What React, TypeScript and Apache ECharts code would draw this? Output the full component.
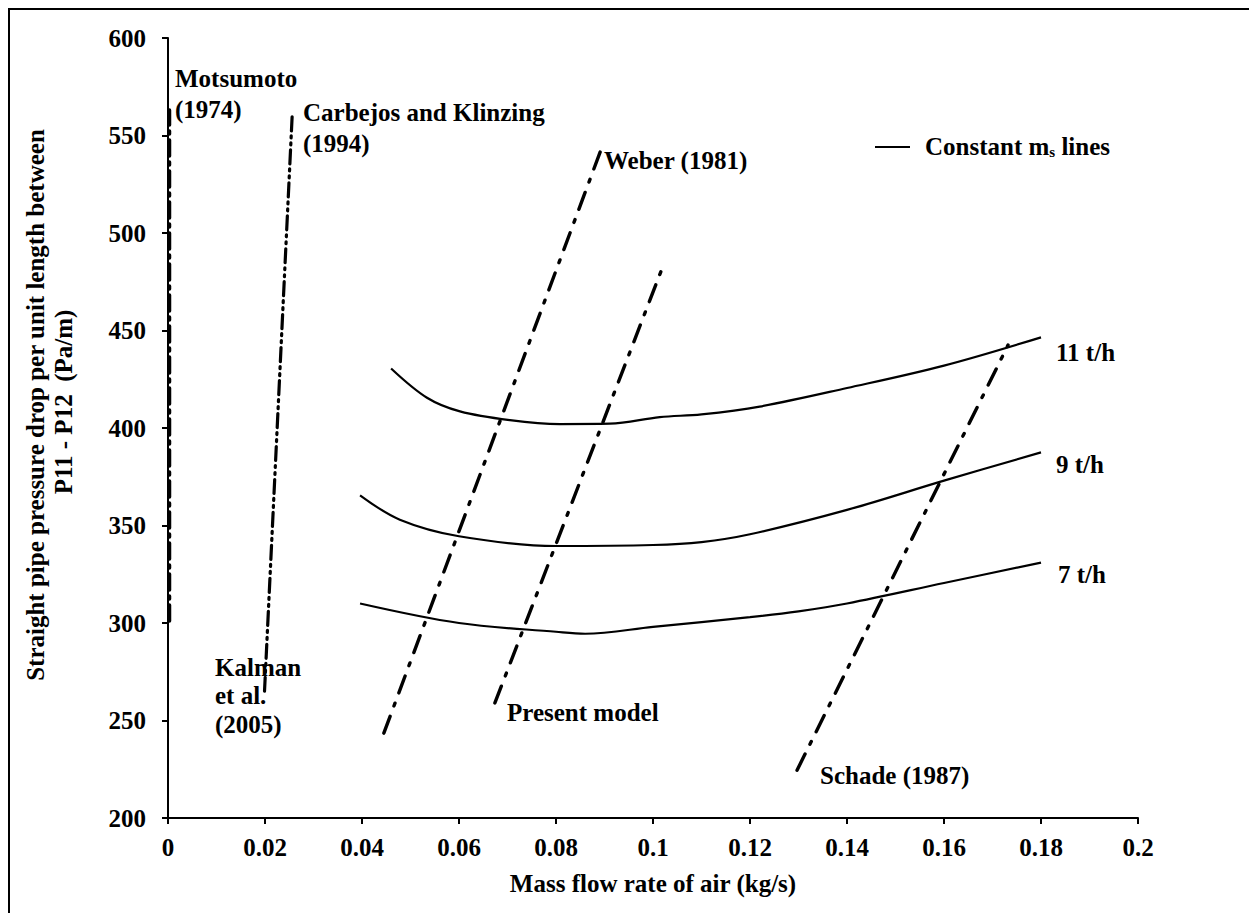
import React, { useEffect, useRef } from "react";
import * as echarts from "echarts";

// Axis ranges
const xMin = 0, xMax = 0.2, xStep = 0.02;
const yMin = 200, yMax = 600, yStep = 50;

// Constant solids-flow curves: [air mass flow (kg/s), pressure drop (Pa/m)]
const curve11 = [
  [0.046, 430.5], [0.0534, 415.5], [0.0602, 408.5], [0.0705, 404], [0.0808, 402],
  [0.0911, 402.2], [0.1014, 405.6], [0.11, 407], [0.122, 411], [0.14, 420.5],
  [0.16, 432], [0.18, 446.5],
];
const curve9 = [
  [0.0396, 365.5], [0.0478, 353], [0.06, 344.5], [0.08, 339.5], [0.1, 340],
  [0.11, 341.5], [0.12, 345.5], [0.14, 358], [0.16, 373], [0.18, 387.5],
];
const curve7 = [
  [0.0396, 310], [0.06, 300], [0.08, 295.5], [0.086, 294.5], [0.1, 298],
  [0.12, 303], [0.13, 306], [0.14, 310], [0.16, 320.5], [0.18, 331],
];

// Correlation lines
const motsumoto = [[0.0003, 301], [0.0003, 563]];
const carbejos = [[0.0199, 265], [0.0256, 560]];
const weber = [[0.0445, 243.5], [0.0891, 541.5]];
const presentModel = [[0.0674, 259], [0.1019, 482]];
const schade = [[0.1297, 224.5], [0.1732, 442.5]];

const FONT = "'Liberation Serif', 'Times New Roman', serif";
const FS = 25;

const solid = (name: string, data: number[][]) => ({
  name,
  type: "line",
  data,
  smooth: 0.35,
  showSymbol: false,
  lineStyle: { color: "#000", width: 2.2, type: "solid" },
});

const dashed = (name: string, data: number[][], pattern: number[], width = 3.4) => ({
  name,
  type: "line",
  data,
  showSymbol: false,
  lineStyle: { color: "#000", width, type: pattern, cap: "round" },
});

const txt = (x: number, y: number, text: string, extra: any = {}) => ({
  type: "text",
  x: x - 8,
  y: y - 8,
  style: {
    text,
    fill: "#000",
    font: `bold ${FS}px ${FONT}`,
    textVerticalAlign: "middle",
    ...extra,
  },
});

export default function App() {
  const ref = useRef<HTMLDivElement>(null);

  useEffect(() => {
    document.body.style.overflow = "hidden";
    const chart = echarts.init(ref.current!, undefined, { renderer: "svg" });
    chart.setOption({
      animation: false,
      grid: { left: 160, right: 114, top: 30, bottom: 95 },
      xAxis: {
        type: "value",
        min: xMin,
        max: xMax,
        interval: xStep,
        axisLine: { lineStyle: { color: "#000", width: 2 } },
        axisTick: { length: 6, inside: false, lineStyle: { color: "#000", width: 2 } },
        axisLabel: {
          color: "#000",
          fontFamily: FONT,
          fontWeight: "bold",
          fontSize: FS,
          margin: 17,
          formatter: (v: number) => String(+v.toFixed(2)),
        },
        splitLine: { show: false },
        name: "Mass flow rate of air (kg/s)",
        nameLocation: "middle",
        nameGap: 53,
        nameTextStyle: { color: "#000", fontFamily: FONT, fontWeight: "bold", fontSize: FS },
      },
      yAxis: {
        type: "value",
        min: yMin,
        max: yMax,
        interval: yStep,
        axisLine: { show: true, lineStyle: { color: "#000", width: 2 } },
        axisTick: { show: true, length: 6, lineStyle: { color: "#000", width: 2 } },
        axisLabel: {
          color: "#000",
          fontFamily: FONT,
          fontWeight: "bold",
          fontSize: FS,
          margin: 22,
        },
        splitLine: { show: false },
      },
      series: [
        solid("11 t/h", curve11),
        solid("9 t/h", curve9),
        solid("7 t/h", curve7),
        dashed("Motsumoto (1974)", motsumoto, [16, 6, 3, 6], 3.6),
        dashed("Carbejos and Klinzing (1994)", carbejos, [14, 5, 2, 5, 2, 5], 3.2),
        dashed("Weber (1981)", weber, [18, 11, 3, 11]),
        dashed("Present model", presentModel, [18, 11, 3, 11]),
        dashed("Schade (1987)", schade, [18, 11, 3, 11]),
      ],
      graphic: [
        {
          type: "rect",
          shape: { x: 1, y: 1, width: 1242, height: 1000 },
          style: { fill: "none", stroke: "#000", lineWidth: 2 },
          silent: true,
        },
        {
          type: "text",
          x: 35 - 8,
          y: 405 - 8,
          rotation: Math.PI / 2,
          style: {
            text: "Straight pipe pressure drop per unit length between",
            fill: "#000",
            font: `bold ${FS}px ${FONT}`,
            textAlign: "center",
            textVerticalAlign: "middle",
          },
        },
        {
          type: "text",
          x: 63 - 8,
          y: 402 - 8,
          rotation: Math.PI / 2,
          style: {
            text: "P11 - P12  (Pa/m)",
            fill: "#000",
            font: `bold ${FS}px ${FONT}`,
            textAlign: "center",
            textVerticalAlign: "middle",
          },
        },
        txt(175, 78, "Motsumoto"),
        txt(175, 109, "(1974)"),
        txt(303, 112, "Carbejos and Klinzing"),
        txt(303, 143, "(1994)"),
        txt(604, 160, "Weber (1981)"),
        txt(215, 667, "Kalman"),
        txt(215, 695, "et al."),
        txt(215, 724, "(2005)"),
        txt(507, 712, "Present model"),
        txt(820, 775, "Schade (1987)"),
        txt(1056, 352, "11 t/h"),
        txt(1056, 464, "9 t/h"),
        txt(1058, 574, "7 t/h"),
        {
          type: "line",
          shape: { x1: 875 - 8, y1: 147 - 8, x2: 910 - 8, y2: 147 - 8 },
          style: { stroke: "#000", lineWidth: 2.2 },
        },
        {
          type: "text",
          x: 925 - 8,
          y: 146 - 8,
          style: {
            text: "{a|Constant m}{s|s}{a| lines}",
            textVerticalAlign: "middle",
            rich: {
              a: { fontFamily: FONT, fontWeight: "bold", fontSize: FS, fill: "#000", color: "#000" },
              s: {
                fontFamily: FONT,
                fontWeight: "bold",
                fontSize: 15,
                color: "#000",
                fill: "#000",
                padding: [12, 0, 0, 0],
              },
            },
          },
        },
      ],
    });
    return () => chart.dispose();
  }, []);

  return <div ref={ref} style={{ width: 1244, height: 905 }} />;
}
